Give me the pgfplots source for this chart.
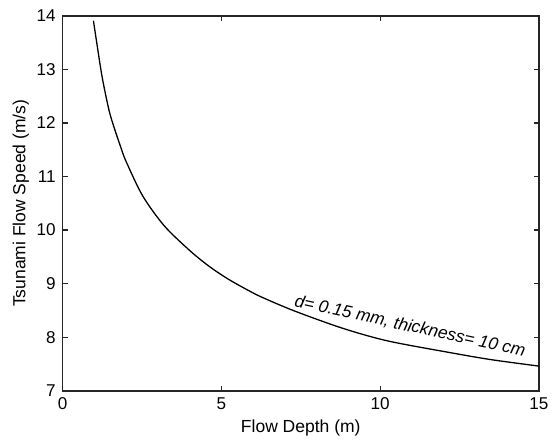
\documentclass[border=0pt]{standalone}
\usepackage{fontspec}
\setmainfont{Liberation Sans}
\usepackage{pgfplots}
\pgfplotsset{compat=1.18}
\begin{document}
\begin{tikzpicture}
\begin{axis}[
    scale only axis,
    width=239.5pt, height=188.5pt,
    xmin=0, xmax=15, ymin=7, ymax=14,
    xtick={0,5,10,15}, ytick={7,8,...,14},
    major tick length=2.5pt,
    axis line style={line width=0.8pt, black!85},
    every tick/.style={black!85, line width=0.6pt},
    tick label style={font=\fontsize{8.6}{10}\selectfont},
    /pgf/number format/assume math mode=true,
    xlabel={Flow Depth (m)},
    ylabel={Tsunami Flow Speed (m/s)},
    label style={font=\fontsize{8.8}{10}\selectfont},
    xlabel style={yshift=2pt},
    ylabel style={yshift=-3pt},
]
\addplot[black, line width=0.65pt, smooth] coordinates {
(0.97,13.91) (1.10,13.40) (1.25,12.84) (1.46,12.24) (1.63,11.90) (1.83,11.55)
(2.0,11.28) (2.52,10.64) (3.2,10.08) (4.0,9.62) (4.6,9.33) (5.2,9.09)
(5.86,8.87) (6.3,8.74) (7.3,8.49) (8.8,8.17) (10.24,7.93) (12.22,7.71)
(13.5,7.58) (15,7.46)
};
\node[rotate=-12.3, font=\fontsize{8.7}{10}\selectfont\itshape] at (axis cs:10.94,8.20) {d= 0.15 mm, thickness= 10 cm};
\end{axis}
\path (current axis.south west) ++(-31.5pt,-27pt);
\path (current axis.north east) ++(6.5pt,8pt);
\end{tikzpicture}
\end{document}
